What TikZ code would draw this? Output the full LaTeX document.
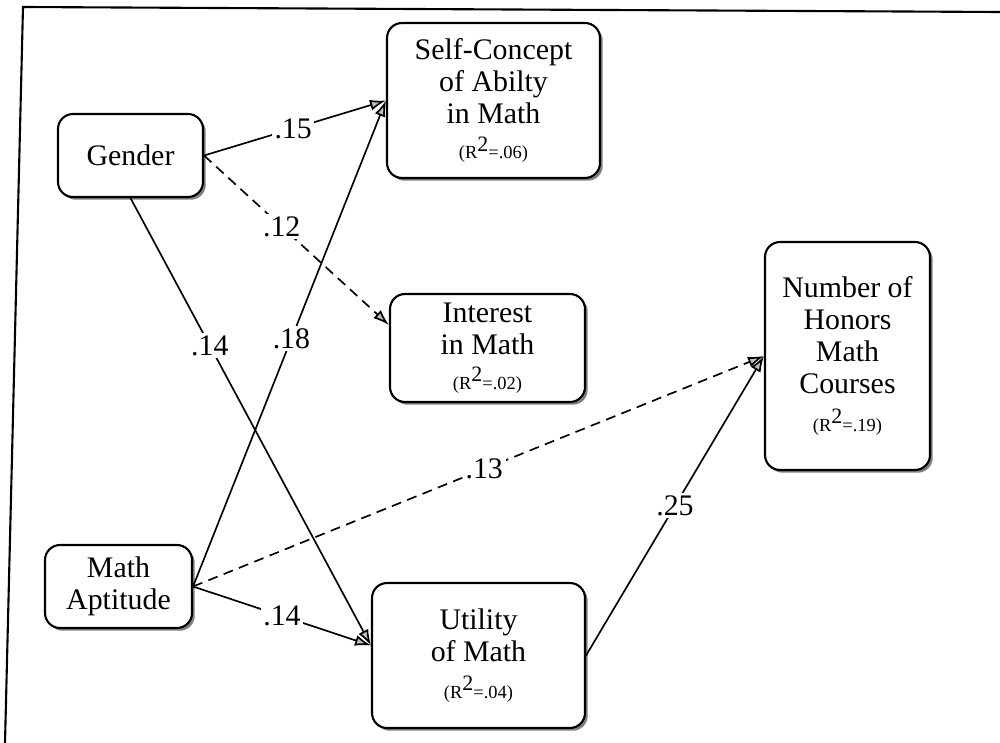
\documentclass[tikz,border=0pt]{standalone}
\usepackage{fontspec}
\setmainfont{Liberation Serif}
\usetikzlibrary{arrows.meta,shadows}
% small R-squared line under each outcome
\newcommand\rsq[1]{{\fontsize{10.5}{13}\selectfont (R\raisebox{0.42em}{\fontsize{12.5}{12.5}\selectfont 2}=#1)}}
\begin{document}
\begin{tikzpicture}[x=0.02cm,y=-0.02cm,
  var/.style={draw, line width=1.2pt, rounded corners=0.3cm, fill=white,
    align=center, inner sep=0pt, font=\fontsize{17}{18.2}\selectfont,
    drop shadow={shadow xshift=0.055cm, shadow yshift=-0.055cm, opacity=1}},
  link/.style={line width=0.95pt,
    -{Latex[length=0.32cm,width=0.22cm,fill=gray!50]}},
  weak/.style={link, dash pattern=on 0.2cm off 0.13cm},
  coef/.style={fill=white, inner sep=1.5pt, font=\fontsize{17}{17}\selectfont}
]
\useasboundingbox (0,0) rectangle (1000,743);

% page frame
\draw[line width=1.2pt] (1000,12) -- (23,7) -- (5,743);

% variables
\node[var, minimum width=2.9cm, minimum height=1.66cm] (gender) at (130.5,155.5) {Gender};
\node[var, minimum width=2.94cm, minimum height=1.66cm] (apt) at (118.5,586.5) {Math\\Aptitude};
\node[var, minimum width=4.26cm, minimum height=3.1cm] (sc) at (493.5,100.5)
  {Self-Concept\\of Abilty\\in Math\\[2pt]\rsq{.06}};
\node[var, minimum width=3.9cm, minimum height=2.16cm] (int) at (487.5,348)
  {Interest\\in Math\\[2pt]\rsq{.02}};
\node[var, minimum width=4.26cm, minimum height=2.9cm] (util) at (478.5,655.5)
  {Utility\\of Math\\[3pt]\rsq{.04}};
\node[var, minimum width=3.3cm, minimum height=4.56cm] (num) at (847.5,356)
  {Number of\\Honors\\Math\\Courses\\[3pt]\rsq{.19}};

% paths with coefficients
\draw[link] (gender.east) -- node[coef,pos=0.49]{.15} (sc.west);
\draw[weak] (gender.east) -- node[coef,pos=0.42]{.12} ([yshift=0.46cm]int.west);
\draw[link] (gender.south) -- node[coef,pos=0.33]{.14} ([yshift=0.2cm]util.west);
\draw[link] (apt.east) -- node[coef,pos=0.51]{.18} (sc.west);
\draw[weak] (apt.east) -- node[coef,pos=0.51]{.13} (num.west);
\draw[link] (apt.east) -- node[coef,pos=0.5]{.14} ([yshift=0.2cm]util.west);
\draw[link] (util.east) -- node[coef,pos=0.5]{.25} (num.west);
\end{tikzpicture}
\end{document}
